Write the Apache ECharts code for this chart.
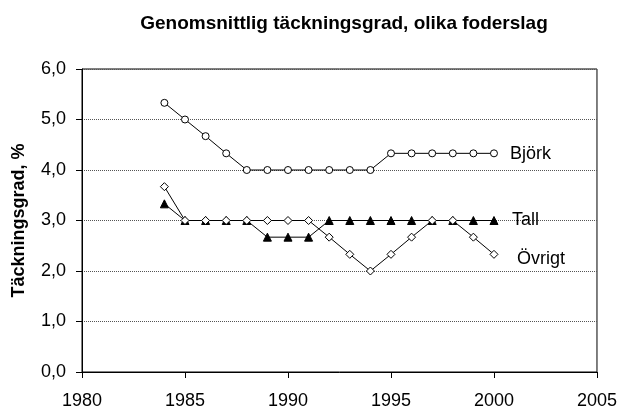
<!DOCTYPE html>
<html><head><meta charset="utf-8">
<script src="https://cdn.jsdelivr.net/npm/echarts@6/dist/echarts.min.js"></script>
<style>html,body{margin:0;padding:0;background:#fff}#c{width:620px;height:412px}</style>
</head><body><div id="c"></div>
<script>
const years = [1984,1985,1986,1987,1988,1989,1990,1991,1992,1993,1994,1995,1996,1997,1998,1999,2000];
const bjork = [5.33,5.0,4.67,4.33,4.0,4.0,4.0,4.0,4.0,4.0,4.0,4.33,4.33,4.33,4.33,4.33,4.33];
const tall = [3.33,3.0,3.0,3.0,3.0,2.67,2.67,2.67,3.0,3.0,3.0,3.0,3.0,3.0,3.0,3.0,3.0];
const ovrigt = [3.67,3.0,3.0,3.0,3.0,3.0,3.0,3.0,2.67,2.33,2.0,2.33,2.67,3.0,3.0,2.67,2.33];
const seriesNames = ['Björk','Tall','Övrigt'];
const title = 'Genomsnittlig täckningsgrad, olika foderslag';
const yName = 'Täckningsgrad, %';

const F = 'Liberation Sans, Arial, sans-serif';
const pair = arr => years.map((y,i)=>[y,arr[i]]);
const chart = echarts.init(document.getElementById('c'));
function mk(name, data, symbol, size, fill, off){
  return {
    name, type:'line', data: pair(data), symbol, symbolSize:size,
    itemStyle:{color:fill, borderColor:'#000', borderWidth:1},
    lineStyle:{color:'#000', width:1},
    animation:false,
    endLabel:{show:true, formatter: name, color:'#000', fontFamily:F, fontSize:18, offset:off, distance:0}
  };
}
chart.setOption({
  animation:false,
  title:{text:title, left:339, top:9, textAlign:'center',
    textStyle:{fontFamily:F, fontSize:19, fontWeight:'bold', color:'#000'}},
  grid:{left:82, right:23, top:69, bottom:40, show:true, borderColor:'#000', borderWidth:1},
  xAxis:{type:'value', min:1980, max:2005, interval:5,
    axisLine:{show:true, lineStyle:{color:'#000'}},
    axisTick:{show:true, length:6, lineStyle:{color:'#000'}},
    axisLabel:{color:'#000', fontFamily:F, fontSize:18, margin:20, formatter: v => String(v)},
    splitLine:{show:false}},
  yAxis:{type:'value', min:0, max:6, interval:1,
    name:yName, nameLocation:'middle', nameGap:54, nameRotate:90,
    nameTextStyle:{fontFamily:F, fontSize:18, fontWeight:'bold', color:'#000'},
    axisLine:{show:true, lineStyle:{color:'#000'}},
    axisTick:{show:true, length:6, lineStyle:{color:'#000'}},
    axisLabel:{color:'#000', fontFamily:F, fontSize:18, margin:16,
      formatter: v => v.toFixed(1).replace('.',',')},
    splitLine:{show:true, lineStyle:{color:'#555', type:[1,1], width:1}}},
  series:[
    mk(seriesNames[0], bjork, 'circle', 7, '#fff', [16,1]),
    mk(seriesNames[1], tall, 'triangle', 8, '#000', [18,0]),
    mk(seriesNames[2], ovrigt, 'diamond', 8, '#fff', [23,5])
  ]
});
</script></body></html>
